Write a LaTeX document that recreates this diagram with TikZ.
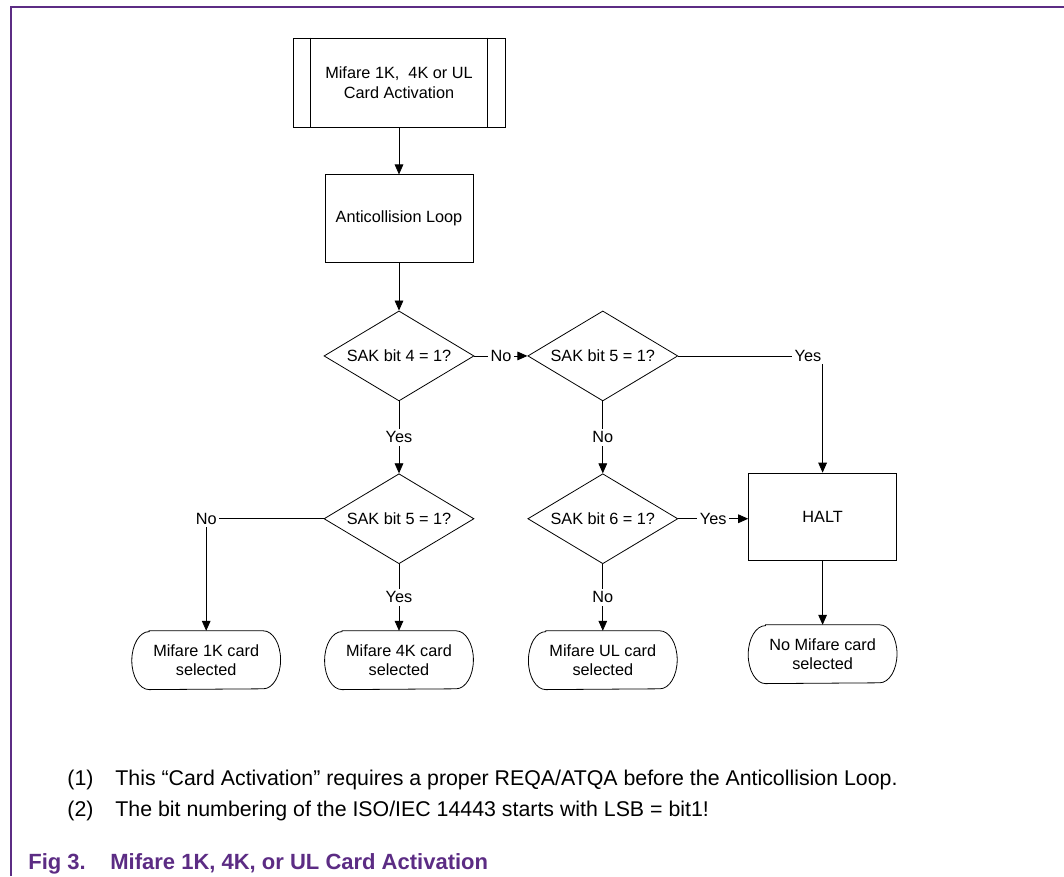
\documentclass[tikz,border=0pt]{standalone}
\usepackage{fontspec}
\setmainfont{Liberation Sans}
\usepackage{xcolor}
\usepackage{tikz}
\usetikzlibrary{shapes.geometric, arrows.meta, positioning, calc}
\definecolor{nxppurple}{RGB}{92,44,132}

\begin{document}
\begin{tikzpicture}[x=0.75pt, y=0.75pt, line width=0.6pt,
    every node/.style={font=\fontsize{12.2}{14.6}\selectfont},
    proc/.style={draw, rectangle, minimum width=111pt, minimum height=65.5pt, align=center},
    predef/.style={draw, rectangle, minimum width=159pt, minimum height=66.75pt, align=center},
    decision/.style={draw, diamond, aspect=1.667, inner sep=0pt, minimum width=112.5pt, minimum height=67.5pt},
    term/.style={rectangle, minimum width=111pt, minimum height=43.5pt, align=center},
    lbl/.style={fill=white, inner sep=2pt},
    arr/.style={-{Triangle[length=7.5pt, width=6.5pt]}},
    note/.style={anchor=base west, inner sep=0pt, font=\fontsize{16}{19}\selectfont},
    capt/.style={anchor=base west, inner sep=0pt, text=nxppurple, font=\fontsize{16.5}{19}\selectfont\bfseries}]
    \useasboundingbox (0,0) rectangle (1064,-876);

    % Frame
    \draw[nxppurple, line width=1.1pt] (11,-876) -- (11,-7) -- (1064,-7);

    % Main column
    \node[predef] (act) at (399,-82.5) {Mifare 1K,\ \ 4K or UL\\Card Activation};
    \draw ([xshift=13.5pt]act.north west) -- ([xshift=13.5pt]act.south west);
    \draw ([xshift=-13.5pt]act.north east) -- ([xshift=-13.5pt]act.south east);
    \node[proc, below=35.25pt of act] (anti) {Anticollision Loop};

    % Decisions
    \node[decision, below=36pt of anti] (sak4) {SAK bit 4 = 1?};
    \node[decision, right=39.75pt of sak4] (sak5a) {SAK bit 5 = 1?};
    \node[decision, below=54pt of sak4] (sak5b) {SAK bit 5 = 1?};
    \node[decision, below=54pt of sak5a] (sak6) {SAK bit 6 = 1?};
    \node[proc, right=52.5pt of sak6, yshift=1.5pt] (halt) {HALT};

    % Results
    \node[term, below=50pt of sak5b] (sel4k) {Mifare 4K card\\selected};
    \node[term, left=33pt of sel4k] (sel1k) {Mifare 1K card\\selected};
    \node[term, below=50pt of sak6] (selul) {Mifare UL card\\selected};
    \node[term, below=48pt of halt] (selnone) {No Mifare card\\selected};
    \foreach \t in {sel1k, sel4k, selul, selnone}
      \draw ([xshift=13pt]\t.north west) -- ([xshift=-13pt]\t.north east)
        arc[start angle=90, end angle=-90, x radius=13pt, y radius=21.75pt]
        -- ([xshift=13pt]\t.south west)
        arc[start angle=270, end angle=90, x radius=13pt, y radius=21.75pt] -- cycle;

    % Flow
    \draw[arr] (act) -- (anti);
    \draw[arr] (anti) -- (sak4);
    \draw[arr] (sak4) -- node[lbl] {No} (sak5a);
    \draw[arr] (sak4) -- node[lbl] {Yes} (sak5b);
    \draw[arr] (sak5a) -- node[lbl] {No} (sak6);
    \draw[arr] (sak5a.east) -| node[lbl, pos=0.5, xshift=-11pt] {Yes} (halt.north);
    \draw[arr] (sak5b.west) -| node[lbl, pos=0.5] {No} (sel1k.north);
    \draw[arr] (sak5b) -- node[lbl] {Yes} (sel4k);
    \draw[arr] (sak6) -- node[lbl] {No} (selul);
    \draw[arr] (sak6) -- node[lbl] {Yes} (sak6 -| halt.west);
    \draw[arr] (halt) -- (selnone);

    % Notes
    \node[note] (num1) at (67,-785) {(1)};
    \node[note] (note1) at (115,-785) {This ``Card Activation'' requires a proper REQA/ATQA before the Anticollision Loop.};
    \node[note] (num2) at (67,-816) {(2)};
    \node[note] (note2) at (115,-816) {The bit numbering of the ISO/IEC 14443 starts with LSB = bit1!};

    % Caption
    \node[capt] (fig) at (28,-869) {Fig 3.};
    \node[capt] (title) at (110,-869) {Mifare 1K, 4K, or UL Card Activation};
\end{tikzpicture}
\end{document}
